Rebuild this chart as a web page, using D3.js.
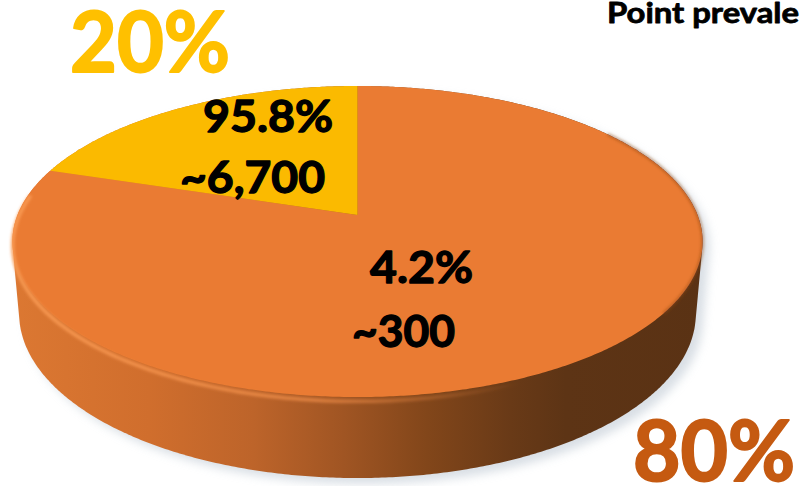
<!DOCTYPE html>
<html>
<head>
<meta charset="utf-8">
<script src="https://cdn.jsdelivr.net/npm/d3@7"></script>
<style>
  html, body { margin: 0; padding: 0; background: #ffffff; }
  svg { display: block; }
  text { font-family: Lato, "Open Sans", "DejaVu Sans", sans-serif; font-weight: 700; }
</style>
</head>
<body>
<svg id="chart" width="800" height="486"></svg>
<script>
// ---- data ----
const shares = [80, 20];                 // slice sizes, in percent
const shareLabels = ["80%", "20%"];      // big outer labels
const detailPct = ["4.2%", "95.8%"];     // first line inside each slice
const detailCount = ["~300", "~6,700"];  // second line inside each slice
const titleText = "Point prevale";

// ---- styles ----
const sliceFill = ["#EA7B33", "#FBBA00"];
const shareLabelFill = ["#C55A11", "#FFC000"];

// ---- layout ----
const svg = d3.select("#chart");

// perspective camera for a flat disc seen from above
const cam = { cx: 357.5, cy: 215, D: 5.27, sinE: 0.4377, cosE: 0.899, fx: 1792, fy: 1818 };
const thickness = 0.233;

function project(X, Y, Z) {
  const v = Z * cam.sinE - Y * cam.cosE;
  const w = cam.D - Z * cam.cosE - Y * cam.sinE;
  return [cam.cx + cam.fx * X / w, cam.cy + cam.fy * v / w];
}
// pie angle (0 = far side, clockwise) -> point on the disc rim
function rim(a, Y) { return project(Math.sin(a), Y, -Math.cos(a)); }

const closed = d3.line().curve(d3.curveLinearClosed);
const open = d3.line();
const full = d3.range(0, 721).map(i => i / 720 * 2 * Math.PI);

// silhouette of the whole cylinder
const hull = d3.polygonHull(full.map(a => rim(a, 0)).concat(full.map(a => rim(a, -thickness))));

const defs = svg.append("defs");

const blurShadow = defs.append("filter").attr("id", "shadowBlur")
  .attr("x", "-10%").attr("y", "-10%").attr("width", "120%").attr("height", "130%");
blurShadow.append("feGaussianBlur").attr("stdDeviation", 5);

const soft = defs.append("filter").attr("id", "soft")
  .attr("x", "-10%").attr("y", "-10%").attr("width", "120%").attr("height", "120%");
soft.append("feGaussianBlur").attr("stdDeviation", 1.6);

const sideGrad = defs.append("linearGradient").attr("id", "sideGrad")
  .attr("gradientUnits", "userSpaceOnUse")
  .attr("x1", 10).attr("y1", 0).attr("x2", 705).attr("y2", 0);
[[0, "#DC7832"], [0.2, "#D06E2D"], [0.35, "#BD642A"], [0.48, "#A05523"],
 [0.6, "#82461A"], [0.72, "#693A17"], [0.8, "#5D3415"], [1, "#5A3214"]]
  .forEach(([o, c]) => sideGrad.append("stop").attr("offset", o).attr("stop-color", c));

const rimGrad = defs.append("linearGradient").attr("id", "rimGrad")
  .attr("gradientUnits", "userSpaceOnUse")
  .attr("x1", 10).attr("y1", 0).attr("x2", 520).attr("y2", 0);
rimGrad.append("stop").attr("offset", 0).attr("stop-color", "#FA9C55").attr("stop-opacity", 0.95);
rimGrad.append("stop").attr("offset", 0.6).attr("stop-color", "#F7934C").attr("stop-opacity", 0.7);
rimGrad.append("stop").attr("offset", 1).attr("stop-color", "#F08A45").attr("stop-opacity", 0);

// drop shadow
svg.append("path")
  .attr("d", closed(hull.map(([x, y]) => [x + 7, y + 6])))
  .attr("fill", "#C9D1DA").attr("opacity", 0.7)
  .attr("filter", "url(#shadowBlur)");

// side wall
svg.append("path")
  .attr("d", closed(hull))
  .attr("fill", "url(#sideGrad)");

// top face slices
const arcs = d3.pie().sort(null).value(d => d)(shares);
svg.append("g").selectAll("path")
  .data(arcs)
  .join("path")
  .attr("d", d => {
    const n = Math.max(2, Math.ceil((d.endAngle - d.startAngle) / (Math.PI / 360)));
    const pts = d3.range(n + 1).map(i => rim(d.startAngle + (d.endAngle - d.startAngle) * i / n, 0));
    return closed([project(0, 0, 0)].concat(pts));
  })
  .attr("fill", (d, i) => sliceFill[i]);

// bevel light along the near rim
const nearRim = d3.range(0, 121).map(i => Math.PI * 1.55 - i / 120 * Math.PI * 0.75).map(a => rim(a, -0.012));
svg.append("path")
  .attr("d", open(nearRim))
  .attr("fill", "none")
  .attr("stroke", "url(#rimGrad)")
  .attr("stroke-width", 3.5)
  .attr("filter", "url(#soft)");

// darker soft edge on the far right of the top face
const rightRim = d3.range(0, 61).map(i => Math.PI * 0.3 + i / 60 * Math.PI * 0.4).map(a => rim(a, 0));
svg.append("path")
  .attr("d", open(rightRim))
  .attr("fill", "none")
  .attr("stroke", "#8C4519")
  .attr("stroke-opacity", 0.55)
  .attr("stroke-width", 2.5)
  .attr("filter", "url(#soft)");

// ---- text ----
function label(txt, x, y, size, len, fill, weightStroke) {
  svg.append("text")
    .attr("x", x).attr("y", y)
    .attr("font-size", size)
    .attr("textLength", len)
    .attr("lengthAdjust", "spacingAndGlyphs")
    .attr("fill", fill)
    .attr("stroke", fill)
    .attr("stroke-width", weightStroke)
    .attr("stroke-linejoin", "round")
    .text(txt);
}

label(titleText, 607, 23, 29, 192, "#000000", 0.8);

// big share labels (20% top left, 80% bottom right)
label(shareLabels[1], 70, 72, 84, 160, shareLabelFill[1], 2);
label(shareLabels[0], 633, 481, 84, 162, shareLabelFill[0], 2);

// detail labels
label(detailPct[1], 203, 132, 44, 130, "#000000", 1.3);
label(detailCount[1], 180, 193, 44, 145, "#000000", 1.3);
label(detailPct[0], 370, 283, 44, 103, "#000000", 1.3);
label(detailCount[0], 352, 347, 44, 103, "#000000", 1.3);
</script>
</body>
</html>
